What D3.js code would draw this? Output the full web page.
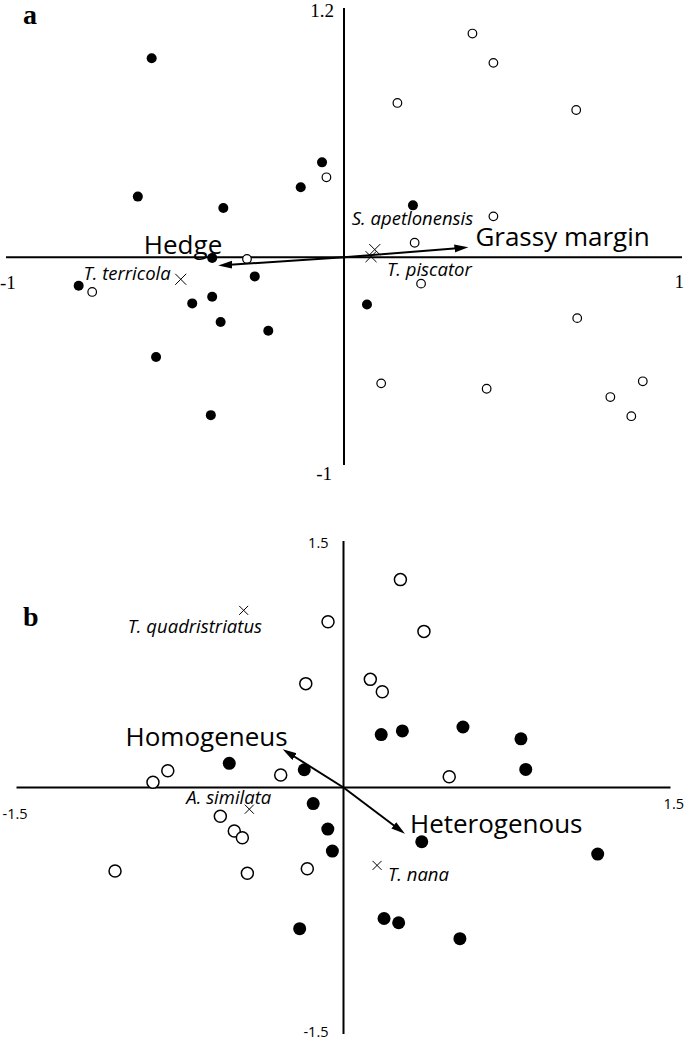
<!DOCTYPE html>
<html>
<head>
<meta charset="utf-8">
<script src="https://cdn.jsdelivr.net/npm/d3@7"></script>
<style>
  body { margin: 0; background: #fff; }
  svg { display: block; }
  .tick-serif { font-family: "Liberation Serif", "Times New Roman", serif; font-size: 19px; }
  .tick-sans { font-family: "Open Sans", sans-serif; font-size: 14.5px; }
  .panel-tag { font-family: "Liberation Serif", serif; font-weight: bold; font-size: 28px; }
  .env { font-family: "Open Sans", sans-serif; font-size: 26px; }
  .species { font-family: "Open Sans", sans-serif; font-style: italic; font-size: 18.5px; }
</style>
</head>
<body>
<div id="chart"></div>
<script>
// Panel a: sites (filled = hedge, open = grassy margin), species and environment arrows
const aFilled = [
  [-0.569, 0.958], [-0.610, 0.292], [-0.357, 0.237], [-0.128, 0.337], [-0.065, 0.457],
  [0.204, 0.250], [-0.390, -0.003], [-0.264, -0.092], [-0.785, -0.137], [-0.390, -0.190],
  [-0.449, -0.222], [-0.365, -0.312], [-0.224, -0.354], [-0.556, -0.480], [-0.394, -0.760],
  [0.068, -0.227]
];
const aOpen = [
  [-0.052, 0.385], [0.380, 1.077], [0.442, 0.936], [0.158, 0.743], [0.687, 0.709],
  [0.442, 0.197], [-0.287, -0.008], [-0.745, -0.167], [0.209, 0.070], [0.228, -0.127],
  [0.690, -0.293], [0.110, -0.607], [0.422, -0.633], [0.884, -0.597], [0.788, -0.673],
  [0.850, -0.765]
];
const aSpecies = [
  { name: "T. terricola", x: -0.483, y: -0.106 },
  { name: "S. apetlonensis", x: 0.091, y: 0.037 },
  { name: "T. piscator", x: 0.080, y: 0.003 }
];
const aArrows = [
  { name: "Hedge", x: -0.372, y: -0.040 },
  { name: "Grassy margin", x: 0.368, y: 0.048 }
];
const aTicks = { top: "1.2", bottom: "-1", left: "-1", right: "1" };

// Panel b
const bFilled = [
  [-0.524, 0.147], [-0.180, 0.108], [0.173, 0.322], [0.270, 0.344], [0.548, 0.368],
  [0.814, 0.296], [0.836, 0.110], [-0.139, -0.098], [-0.072, -0.253], [-0.051, -0.387],
  [-0.201, -0.859], [0.359, -0.330], [1.166, -0.405], [0.186, -0.797], [0.253, -0.823],
  [0.534, -0.920]
];
const bOpen = [
  [-0.071, 1.009], [-0.173, 0.632], [-0.806, 0.102], [-0.874, 0.032], [-0.288, 0.076],
  [0.261, 1.265], [0.369, 0.950], [0.123, 0.658], [0.178, 0.583], [0.485, 0.065],
  [-0.565, -0.175], [-0.501, -0.265], [-0.464, -0.306], [-0.166, -0.494], [-0.441, -0.522],
  [-1.048, -0.508]
];
const bSpecies = [
  { name: "T. quadristriatus", x: -0.458, y: 1.078 },
  { name: "A. similata", x: -0.432, y: -0.132 },
  { name: "T. nana", x: 0.154, y: -0.474 }
];
const bArrows = [
  { name: "Homogeneus", x: -0.279, y: 0.233 },
  { name: "Heterogenous", x: 0.282, y: -0.282 }
];
const bTicks = { top: "1.5", bottom: "-1.5", left: "-1.5", right: "1.5" };

// label placement (pixels, relative to the mark)
const labelPos = {
  "T. terricola": { dx: -10, dy: 1, anchor: "end" },
  "S. apetlonensis": { dx: -23, dy: -25, anchor: "start" },
  "T. piscator": { dx: 16, dy: 19, anchor: "start" },
  "T. quadristriatus": { dx: -116, dy: 23, anchor: "start" },
  "A. similata": { dx: -63, dy: -5, anchor: "start" },
  "T. nana": { dx: 11, dy: 16, anchor: "start" },
  "Hedge": { dx: 4, dy: -12, anchor: "end" },
  "Grassy margin": { dx: 7, dy: -1, anchor: "start" },
  "Homogeneus": { dx: 5, dy: -3, anchor: "end" },
  "Heterogenous": { dx: 5, dy: -1, anchor: "start" }
};

const svg = d3.select("#chart").append("svg")
  .attr("width", 685)
  .attr("height", 1042);

const defs = svg.append("defs");
defs.append("marker")
  .attr("id", "head")
  .attr("markerUnits", "userSpaceOnUse")
  .attr("markerWidth", 16).attr("markerHeight", 10)
  .attr("refX", 6).attr("refY", 4)
  .attr("orient", "auto")
  .append("path")
  .attr("d", "M0,0L14,4L0,8Z")
  .attr("fill", "#000");

function drawPanel(cfg) {
  const { x, y, filled, open, species, arrows, ticks, rFill, rOpen, openStroke, tickClass } = cfg;
  const g = svg.append("g");
  const x0 = x(0), y0 = y(0);
  const [xmin, xmax] = x.domain();
  const [ymin, ymax] = y.domain();

  // axes
  g.append("line")
    .attr("x1", x(xmin)).attr("x2", x(xmax))
    .attr("y1", y0).attr("y2", y0)
    .attr("stroke", "#000").attr("stroke-width", 2);
  g.append("line")
    .attr("x1", x0).attr("x2", x0)
    .attr("y1", y(ymax)).attr("y2", y(ymin))
    .attr("stroke", "#000").attr("stroke-width", 2);

  // end labels
  g.append("text").attr("class", tickClass).attr("text-anchor", "end")
    .attr("x", x0 + cfg.tickTop[0]).attr("y", y(ymax) + cfg.tickTop[1]).text(ticks.top);
  g.append("text").attr("class", tickClass).attr("text-anchor", "end")
    .attr("x", x0 + cfg.tickBottom[0]).attr("y", y(ymin) + cfg.tickBottom[1]).text(ticks.bottom);
  g.append("text").attr("class", tickClass).attr("text-anchor", "start")
    .attr("x", x(xmin) + cfg.tickLeft[0]).attr("y", y0 + cfg.tickLeft[1]).text(ticks.left);
  g.append("text").attr("class", tickClass).attr("text-anchor", "end")
    .attr("x", 684).attr("y", y0 + cfg.tickRight).text(ticks.right);

  // panel tag
  g.append("text").attr("class", "panel-tag")
    .attr("x", cfg.tag[1]).attr("y", cfg.tag[2]).text(cfg.tag[0]);

  // sites
  g.selectAll(".filled").data(filled).enter().append("circle")
    .attr("cx", d => x(d[0])).attr("cy", d => y(d[1]))
    .attr("r", rFill).attr("fill", "#000");
  g.selectAll(".open").data(open).enter().append("circle")
    .attr("cx", d => x(d[0])).attr("cy", d => y(d[1]))
    .attr("r", rOpen).attr("fill", "#fff")
    .attr("stroke", "#000").attr("stroke-width", openStroke);

  // species crosses
  const c = cfg.cross;
  g.selectAll(".sp").data(species).enter().append("path")
    .attr("transform", d => `translate(${x(d.x)},${y(d.y)})`)
    .attr("d", `M${-c},${-c}L${c},${c}M${-c},${c}L${c},${-c}`)
    .attr("stroke", "#000").attr("stroke-width", 1).attr("fill", "none");
  g.selectAll(".splab").data(species).enter().append("text")
    .attr("class", "species")
    .attr("text-anchor", d => labelPos[d.name].anchor)
    .attr("x", d => x(d.x) + labelPos[d.name].dx)
    .attr("y", d => y(d.y) + labelPos[d.name].dy)
    .text(d => d.name);

  // environment arrows (line stops short, marker tip lands on the point)
  arrows.forEach(a => {
    const tx = x(a.x), ty = y(a.y);
    const len = Math.hypot(tx - x0, ty - y0);
    const k = (len - 8) / len;
    g.append("line")
      .attr("x1", x0).attr("y1", y0)
      .attr("x2", x0 + (tx - x0) * k).attr("y2", y0 + (ty - y0) * k)
      .attr("stroke", "#000").attr("stroke-width", 2)
      .attr("marker-end", "url(#head)");
    const p = labelPos[a.name];
    g.append("text").attr("class", "env")
      .attr("text-anchor", p.anchor)
      .attr("x", tx + p.dx).attr("y", ty + p.dy)
      .text(a.name);
  });
}

drawPanel({
  x: d3.scaleLinear().domain([-1, 1]).range([6, 682]),
  y: d3.scaleLinear().domain([-1, 1.2]).range([465, 8]),
  filled: aFilled, open: aOpen, species: aSpecies, arrows: aArrows, ticks: aTicks,
  rFill: 5, rOpen: 4.3, openStroke: 1.2, cross: 5.5,
  tickClass: "tick-serif",
  tickTop: [-10, 9], tickBottom: [-12, 15], tickLeft: [-6, 32], tickRight: 31,
  tag: ["a", 23, 24]
});

drawPanel({
  x: d3.scaleLinear().domain([-1.5, 1.5]).range([16.5, 670.5]),
  y: d3.scaleLinear().domain([-1.5, 1.5]).range([1034, 541]),
  filled: bFilled, open: bOpen, species: bSpecies, arrows: bArrows, ticks: bTicks,
  rFill: 6.5, rOpen: 6, openStroke: 1.5, cross: 4.5,
  tickClass: "tick-sans",
  tickTop: [-15, 7], tickBottom: [-15, 3], tickLeft: [-14, 31], tickRight: 21,
  tag: ["b", 23, 626]
});
</script>
</body>
</html>
